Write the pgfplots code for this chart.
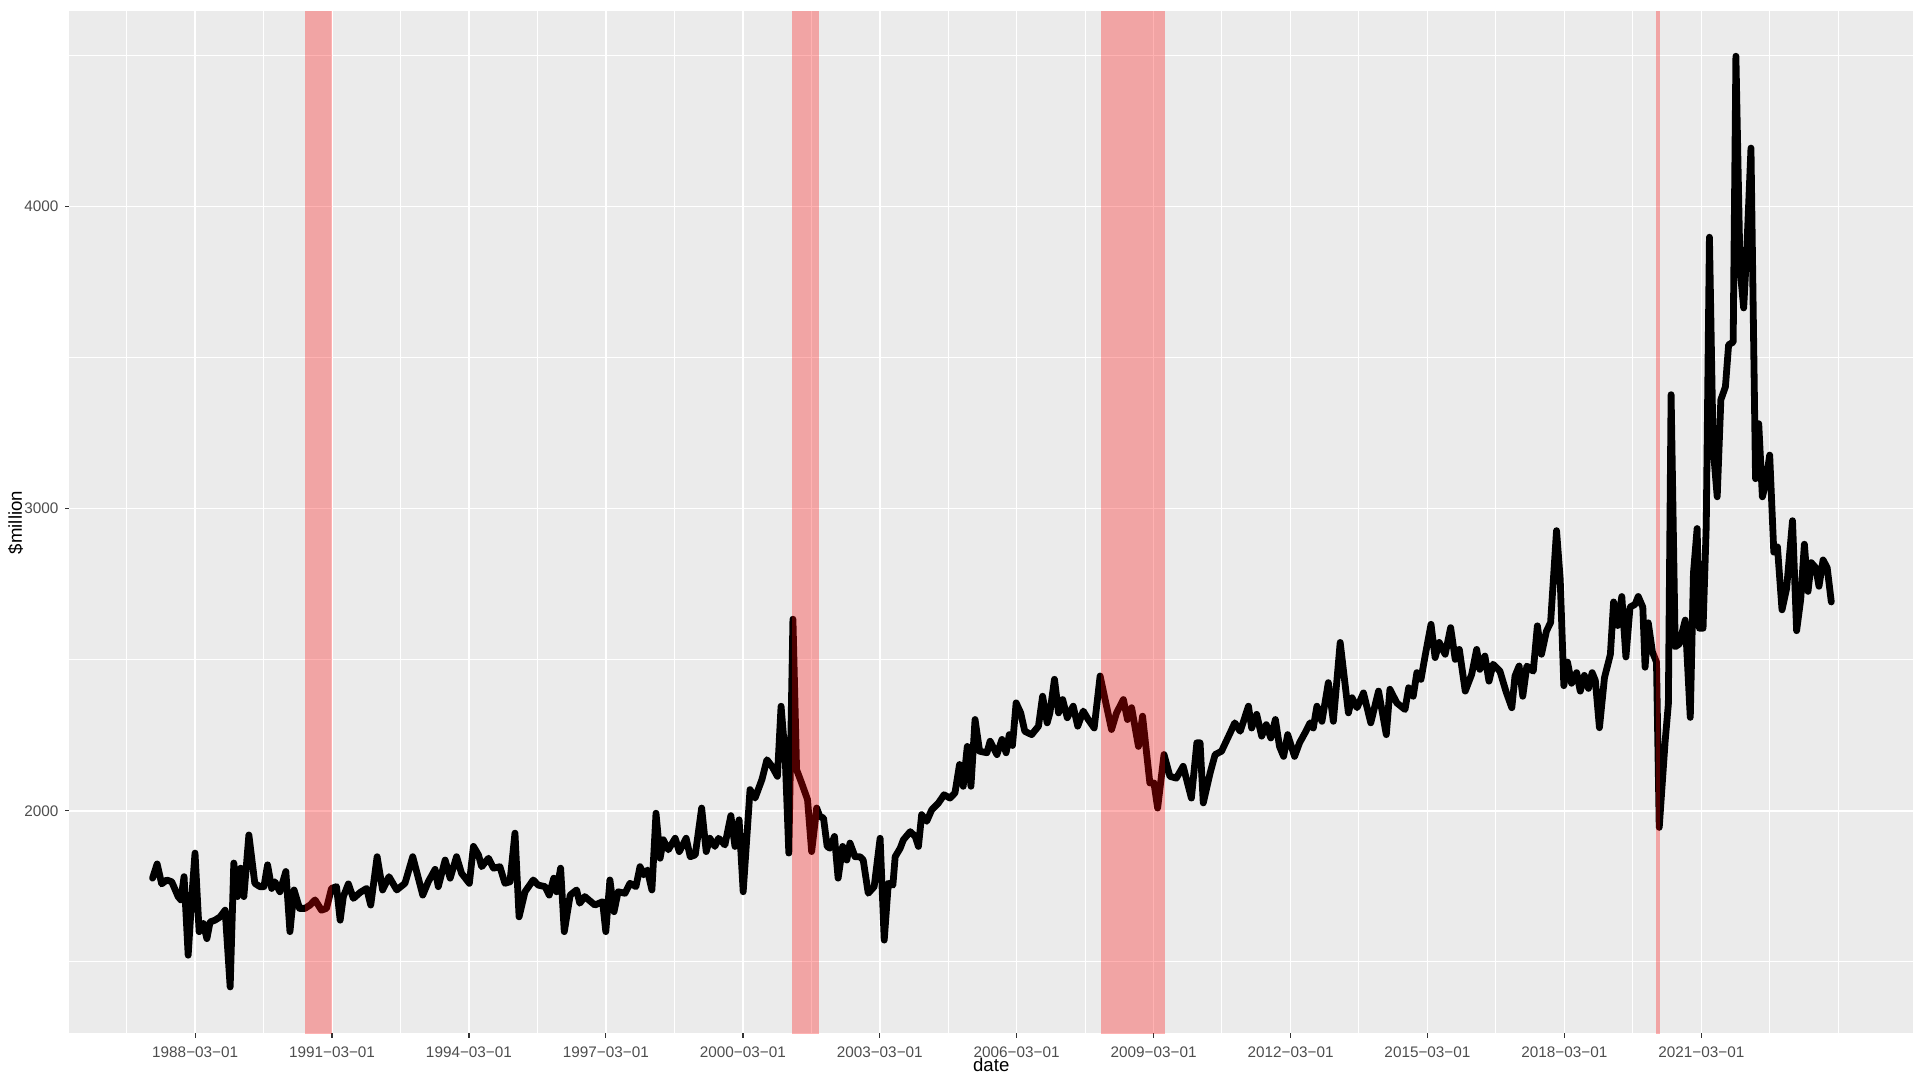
\documentclass[border=0pt]{standalone}
\usepackage{fontspec}
\setmainfont{Liberation Sans}
\usepackage{pgfplots}
\pgfplotsset{compat=1.18}
\definecolor{panelgray}{HTML}{EBEBEB}
\definecolor{tickgray}{HTML}{4D4D4D}
\definecolor{tickmark}{HTML}{333333}
\begin{document}
\begin{tikzpicture}
\path[use as bounding box] (-34.75pt,-20.75pt) rectangle (921.75pt,516.75pt);
\begin{axis}[
  at={(0,0)}, anchor=south west,
  scale only axis, width=921.75pt, height=511pt,
  xmin=1985.41, xmax=2025.80, ymin=1263, ymax=4645,
  enlargelimits=false,
  axis lines=left, axis line style={draw=none},
  axis background/.style={fill=panelgray},
  tick align=outside,
  major tick length=2.2pt, minor tick length=0pt,
  major tick style={tickmark, line width=0.6pt},
  xtick={1988.164,1991.162,1994.162,1997.162,2000.164,2003.162,2006.162,2009.162,2012.164,2015.162,2018.162,2021.162},
  xticklabels={1988−03−01,1991−03−01,1994−03−01,1997−03−01,2000−03−01,2003−03−01,2006−03−01,2009−03−01,2012−03−01,2015−03−01,2018−03−01,2021−03−01},
  minor xtick={1986.66,1989.66,1992.66,1995.66,1998.66,2001.66,2004.66,2007.66,2010.66,2013.66,2016.66,2019.66,2022.66,2024.16},
  ytick={2000,3000,4000},
  yticklabels={2000,3000,4000},
  minor ytick={1500,2500,3500,4500},
  grid=both,
  major grid style={white, line width=0.8pt},
  minor grid style={white, line width=0.5pt},
  ticklabel style={font=\fontsize{7.65pt}{9pt}\selectfont, text=tickgray},
  xticklabel style={anchor=base, inner sep=0pt, yshift=-9.9pt},
  yticklabel style={anchor=east, inner sep=0pt, xshift=-3.1pt},
  xlabel={date},
  ylabel={\$million},
  label style={font=\fontsize{9.3pt}{11pt}\selectfont, text=black},
  xlabel style={at={([yshift=-19.25pt]axis description cs:0.5,0)}, anchor=base, inner sep=0pt},
  ylabel style={at={([xshift=-23.75pt]axis description cs:0,0.5)}, anchor=base, inner sep=0pt},
]
\addplot[black, line width=3.4pt, line join=round, line cap=round] coordinates {
(1987.23,1777)(1987.33,1824)(1987.43,1758)(1987.54,1771)(1987.65,1765)(1987.79,1716)(1987.85,1705)(1987.92,1782)
(1988.01,1522)(1988.09,1716)(1988.16,1860)(1988.25,1600)(1988.34,1627)(1988.42,1577)(1988.49,1632)(1988.60,1638)
(1988.71,1649)(1988.82,1671)(1988.93,1417)(1989.01,1827)(1989.09,1716)(1989.16,1810)(1989.23,1716)(1989.34,1920)
(1989.47,1760)(1989.58,1749)(1989.67,1749)(1989.75,1821)(1989.84,1743)(1989.91,1765)(1990.02,1732)(1990.15,1799)
(1990.24,1600)(1990.33,1738)(1990.45,1677)(1990.57,1677)(1990.68,1688)(1990.79,1705)(1990.93,1671)(1991.04,1677)
(1991.15,1743)(1991.26,1749)(1991.34,1638)(1991.41,1716)(1991.52,1758)(1991.63,1710)(1991.78,1730)(1991.92,1743)
(1992.01,1688)(1992.15,1848)(1992.27,1738)(1992.41,1782)(1992.58,1738)(1992.76,1760)(1992.93,1848)(1993.15,1721)
(1993.27,1765)(1993.42,1806)(1993.49,1749)(1993.64,1837)(1993.75,1777)(1993.89,1848)(1994.00,1793)(1994.17,1760)
(1994.26,1882)(1994.37,1854)(1994.44,1815)(1994.59,1843)(1994.70,1810)(1994.84,1815)(1994.95,1760)(1995.06,1765)
(1995.17,1926)(1995.26,1649)(1995.39,1732)(1995.57,1771)(1995.68,1754)(1995.83,1749)(1995.92,1721)(1996.02,1777)
(1996.08,1732)(1996.17,1810)(1996.25,1600)(1996.38,1721)(1996.52,1738)(1996.59,1694)(1996.70,1716)(1996.92,1688)
(1997.09,1699)(1997.16,1600)(1997.25,1771)(1997.34,1666)(1997.43,1732)(1997.58,1727)(1997.69,1760)(1997.82,1749)
(1997.91,1815)(1997.99,1788)(1998.07,1804)(1998.17,1738)(1998.26,1992)(1998.35,1843)(1998.42,1904)(1998.53,1871)
(1998.68,1909)(1998.77,1865)(1998.92,1909)(1999.01,1848)(1999.12,1854)(1999.26,2009)(1999.36,1865)(1999.44,1909)
(1999.55,1882)(1999.63,1909)(1999.77,1887)(1999.90,1984)(1999.99,1882)(2000.08,1970)(2000.17,1732)(2000.32,2070)
(2000.43,2042)(2000.58,2103)(2000.69,2169)(2000.80,2147)(2000.92,2114)(2001.00,2346)(2001.09,2180)(2001.17,1860)
(2001.26,2634)(2001.34,2136)(2001.45,2092)(2001.58,2037)(2001.67,1865)(2001.78,2009)(2001.85,1981)(2001.93,1976)
(2002.01,1882)(2002.07,1876)(2002.17,1915)(2002.25,1777)(2002.35,1882)(2002.44,1837)(2002.51,1893)(2002.62,1848)
(2002.73,1848)(2002.80,1837)(2002.91,1727)(2003.04,1749)(2003.17,1909)(2003.26,1572)(2003.35,1760)(2003.45,1754)
(2003.50,1848)(2003.61,1876)(2003.68,1904)(2003.83,1931)(2003.94,1915)(2004.01,1882)(2004.08,1987)(2004.19,1965)
(2004.30,2003)(2004.45,2026)(2004.57,2053)(2004.70,2042)(2004.81,2059)(2004.91,2153)(2004.99,2081)(2005.08,2213)
(2005.16,2081)(2005.25,2302)(2005.35,2197)(2005.51,2192)(2005.58,2230)(2005.73,2186)(2005.84,2236)(2005.93,2192)
(2006.00,2252)(2006.07,2216)(2006.15,2357)(2006.25,2324)(2006.34,2263)(2006.49,2252)(2006.64,2280)(2006.73,2379)
(2006.83,2291)(2006.89,2324)(2006.99,2435)(2007.08,2324)(2007.17,2368)(2007.27,2308)(2007.40,2346)(2007.50,2280)
(2007.62,2330)(2007.73,2302)(2007.86,2274)(2007.99,2446)(2008.10,2368)(2008.24,2269)(2008.35,2324)(2008.50,2368)
(2008.59,2302)(2008.68,2341)(2008.83,2213)(2008.92,2313)(2009.08,2092)(2009.17,2092)(2009.25,2009)(2009.39,2186)
(2009.52,2114)(2009.66,2108)(2009.81,2147)(2009.99,2042)(2010.11,2225)(2010.18,2225)(2010.25,2026)(2010.40,2125)
(2010.51,2186)(2010.65,2197)(2010.84,2258)(2010.94,2291)(2011.06,2263)(2011.24,2346)(2011.31,2274)(2011.42,2319)
(2011.53,2247)(2011.63,2285)(2011.73,2241)(2011.83,2302)(2011.92,2213)(2012.01,2180)(2012.10,2252)(2012.25,2180)
(2012.36,2225)(2012.48,2258)(2012.59,2291)(2012.66,2274)(2012.74,2346)(2012.85,2296)(2012.99,2424)(2013.10,2296)
(2013.25,2557)(2013.43,2324)(2013.51,2374)(2013.62,2341)(2013.76,2390)(2013.92,2291)(2014.09,2396)(2014.26,2252)
(2014.34,2402)(2014.49,2357)(2014.67,2335)(2014.75,2407)(2014.85,2379)(2014.93,2457)(2015.02,2435)(2015.11,2512)
(2015.24,2617)(2015.33,2507)(2015.42,2557)(2015.55,2518)(2015.67,2606)(2015.77,2501)(2015.86,2534)(2015.99,2396)
(2016.13,2451)(2016.24,2534)(2016.31,2468)(2016.42,2512)(2016.51,2429)(2016.60,2485)(2016.75,2462)(2016.88,2396)
(2017.01,2341)(2017.08,2446)(2017.17,2479)(2017.25,2379)(2017.34,2479)(2017.48,2462)(2017.57,2612)(2017.66,2518)
(2017.77,2595)(2017.86,2623)(2017.99,2927)(2018.07,2767)(2018.15,2414)(2018.23,2492)(2018.32,2422)(2018.43,2457)
(2018.51,2396)(2018.60,2448)(2018.69,2405)(2018.77,2457)(2018.84,2431)(2018.93,2275)(2019.04,2440)(2019.17,2518)
(2019.24,2691)(2019.33,2613)(2019.42,2709)(2019.51,2509)(2019.60,2674)(2019.71,2683)(2019.78,2709)(2019.88,2674)
(2019.93,2475)(2020.00,2622)(2020.09,2526)(2020.18,2492)(2020.24,1945)(2020.37,2231)(2020.44,2353)(2020.50,3377)
(2020.59,2543)(2020.68,2552)(2020.81,2631)(2020.92,2309)(2020.99,2787)(2021.07,2934)(2021.12,2604)(2021.20,2604)
(2021.27,2943)(2021.34,3898)(2021.42,3204)(2021.51,3039)(2021.59,3360)(2021.69,3403)(2021.76,3542)(2021.86,3551)
(2021.92,4497)(2022.01,3794)(2022.09,3664)(2022.16,3863)(2022.25,4193)(2022.35,3099)(2022.42,3281)(2022.50,3039)
(2022.57,3082)(2022.66,3177)(2022.75,2856)(2022.83,2873)(2022.93,2665)(2023.03,2735)(2023.16,2960)(2023.25,2596)
(2023.34,2700)(2023.42,2882)(2023.50,2726)(2023.57,2821)(2023.67,2804)(2023.74,2743)(2023.83,2830)(2023.92,2804)
(2024.01,2691)
};
\addplot[draw=none, fill=red, fill opacity=0.3] coordinates {(1990.58,1200)(1991.16,1200)(1991.16,4700)(1990.58,4700)} -- cycle;
\addplot[draw=none, fill=red, fill opacity=0.3] coordinates {(2001.25,1200)(2001.83,1200)(2001.83,4700)(2001.25,4700)} -- cycle;
\addplot[draw=none, fill=red, fill opacity=0.3] coordinates {(2008.00,1200)(2009.41,1200)(2009.41,4700)(2008.00,4700)} -- cycle;
\addplot[draw=none, fill=red, fill opacity=0.3] coordinates {(2020.164,1200)(2020.249,1200)(2020.249,4700)(2020.164,4700)} -- cycle;
\end{axis}
\end{tikzpicture}
\end{document}
